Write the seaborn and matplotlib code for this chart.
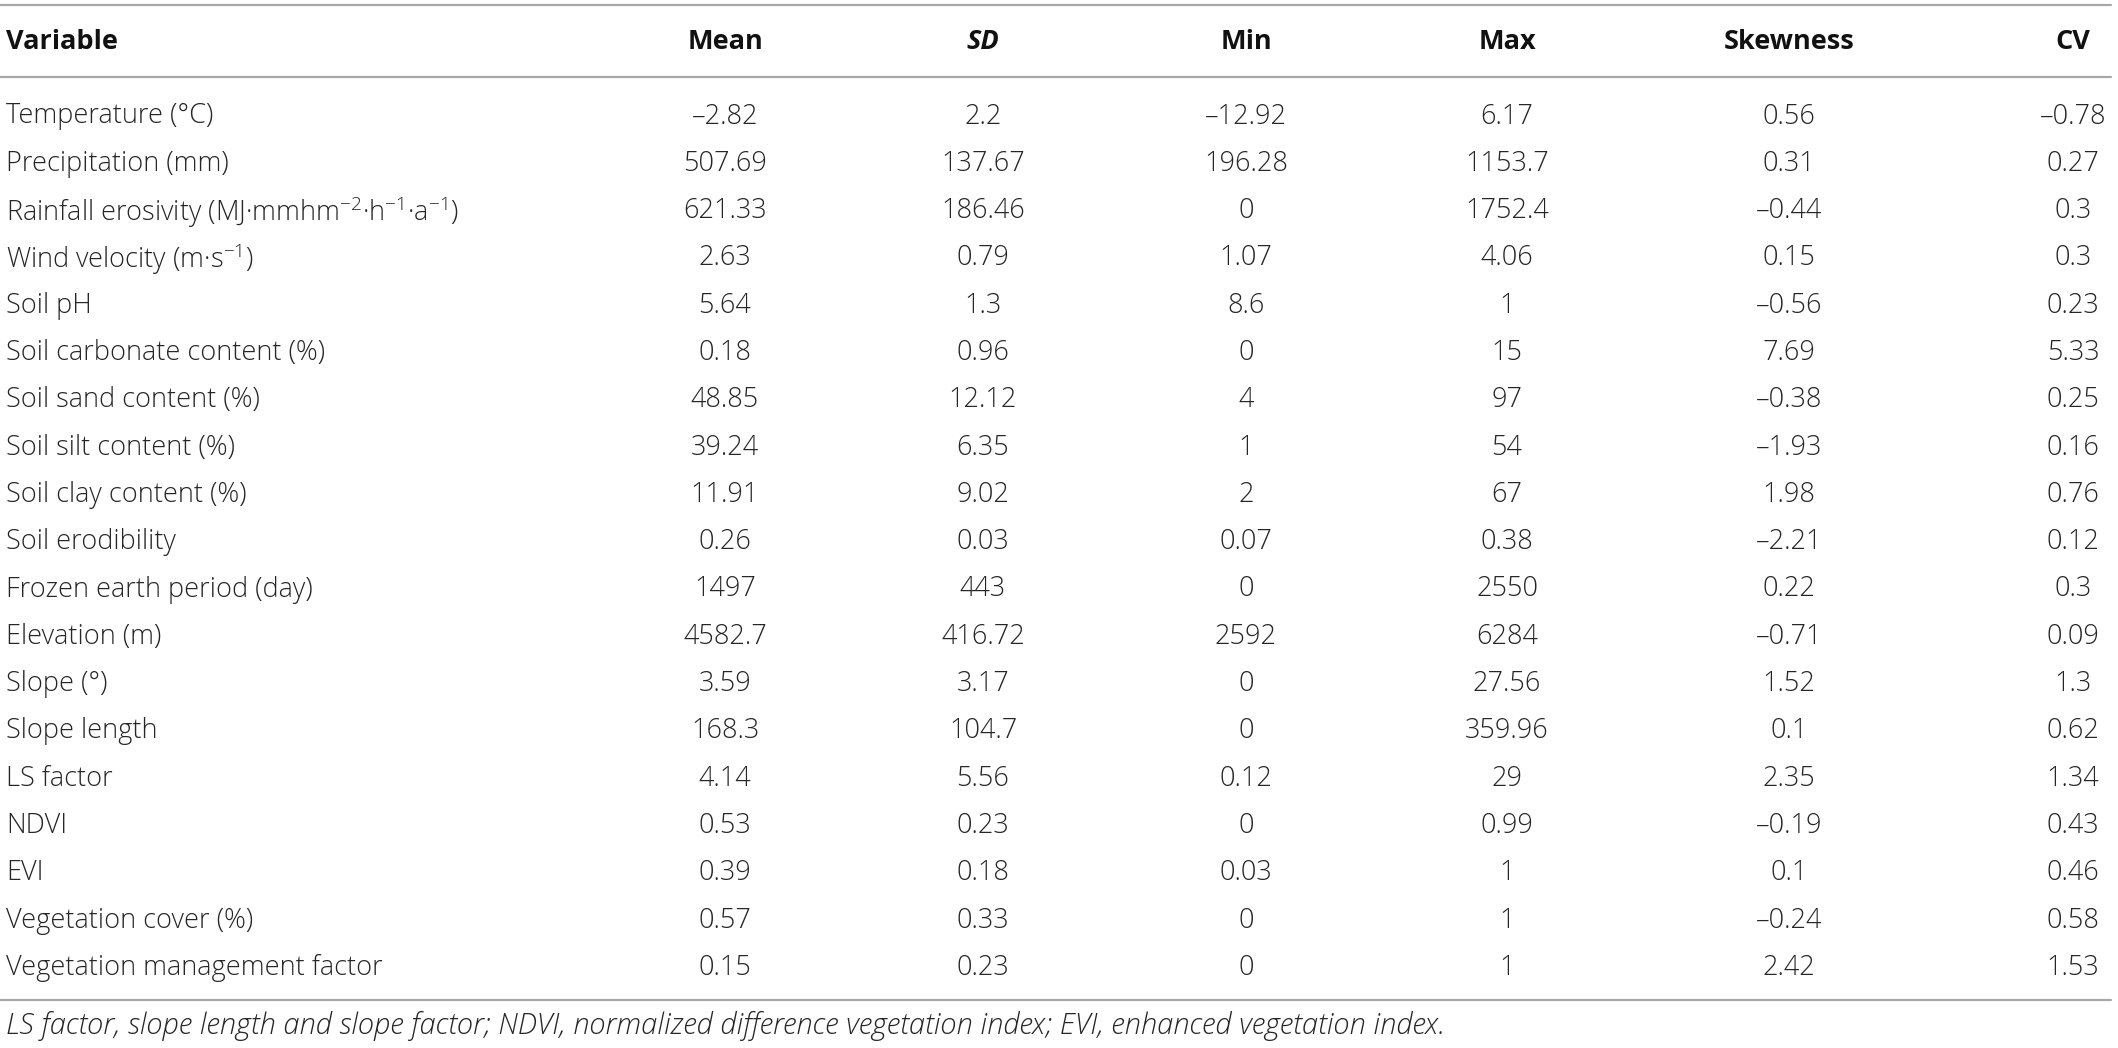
import matplotlib
matplotlib.use("Agg")
import matplotlib.pyplot as plt
from matplotlib import font_manager as fm
import seaborn as sns

variables = [
    "Temperature (°C)",
    "Precipitation (mm)",
    "Rainfall erosivity (MJ·mmhm$^{-2}$·h$^{-1}$·a$^{-1}$)",
    "Wind velocity (m·s$^{-1}$)",
    "Soil pH",
    "Soil carbonate content (%)",
    "Soil sand content (%)",
    "Soil silt content (%)",
    "Soil clay content (%)",
    "Soil erodibility",
    "Frozen earth period (day)",
    "Elevation (m)",
    "Slope (°)",
    "Slope length",
    "LS factor",
    "NDVI",
    "EVI",
    "Vegetation cover (%)",
    "Vegetation management factor",
]
mean = [-2.82, 507.69, 621.33, 2.63, 5.64, 0.18, 48.85, 39.24, 11.91, 0.26, 1497, 4582.7, 3.59, 168.3, 4.14, 0.53, 0.39, 0.57, 0.15]
sd = [2.2, 137.67, 186.46, 0.79, 1.3, 0.96, 12.12, 6.35, 9.02, 0.03, 443, 416.72, 3.17, 104.7, 5.56, 0.23, 0.18, 0.33, 0.23]
vmin = [-12.92, 196.28, 0, 1.07, 8.6, 0, 4, 1, 2, 0.07, 0, 2592, 0, 0, 0.12, 0, 0.03, 0, 0]
vmax = [6.17, 1153.7, 1752.4, 4.06, 1, 15, 97, 54, 67, 0.38, 2550, 6284, 27.56, 359.96, 29, 0.99, 1, 1, 1]
skewness = [0.56, 0.31, -0.44, 0.15, -0.56, 7.69, -0.38, -1.93, 1.98, -2.21, 0.22, -0.71, 1.52, 0.1, 2.35, -0.19, 0.1, -0.24, 2.42]
cv = [-0.78, 0.27, 0.3, 0.3, 0.23, 5.33, 0.25, 0.16, 0.76, 0.12, 0.3, 0.09, 1.3, 0.62, 1.34, 0.43, 0.46, 0.58, 1.53]

headers = ["Variable", "Mean", "SD", "Min", "Max", "Skewness", "CV"]
footnote = ("LS factor, slope length and slope factor; NDVI, normalized difference "
            "vegetation index; EVI, enhanced vegetation index.")

sns.set_theme(style="white")

# look for a light sans face, the reference uses a thin Helvetica-like font
base, light = "DejaVu Sans", None
for fam in ["Open Sans", "Lato", "Roboto", "Inter", "Noto Sans"]:
    faces = [f for f in fm.fontManager.ttflist
             if f.name.startswith(fam) and f.weight == 300 and f.style == "normal"]
    if faces:
        base, light = fam, faces[0].name
        break
body = light if light else base
plt.rcParams["font.family"] = [body, "DejaVu Sans"]
plt.rcParams["mathtext.fontset"] = "custom"
plt.rcParams["mathtext.rm"] = f"{body}:weight=light"
plt.rcParams["mathtext.default"] = "regular"


def fmt(v):
    return f"{v:g}".replace("-", "\u2013")


W, H = 2118, 1048
fig = plt.figure(figsize=(W / 100, H / 100), dpi=100)
ax = fig.add_axes([0, 0, 1, 1])
ax.set_xlim(0, W)
ax.set_ylim(H, 0)
ax.axis("off")

# first column left aligned, the rest centred on their column
col_x = [6, 725, 983, 1246, 1507, 1789, 2073]
fs = 19.5
txt_col = "#262626"
line_col = "#a8a8a8"

header_y = 42
row0 = 113
step = 47.3

for j, (x, h) in enumerate(zip(col_x, headers)):
    ax.text(x, header_y, h, ha="left" if j == 0 else "center", va="center",
            fontsize=fs, fontweight="bold", family=[base, "DejaVu Sans"],
            fontstyle="italic" if h == "SD" else "normal", color="#111111")

columns = [mean, sd, vmin, vmax, skewness, cv]
for i, var in enumerate(variables):
    y = row0 + i * step
    ax.text(col_x[0], y, var, ha="left", va="center_baseline", fontsize=fs,
            color=txt_col, fontweight=300)
    for x, col in zip(col_x[1:], columns):
        ax.text(x, y, fmt(col[i]), ha="center", va="center_baseline", fontsize=fs,
                color=txt_col, fontweight=300)

for y in [5, 77, 1000]:
    ax.plot([0, 2111], [y, y], color=line_col, lw=1.6)

ax.text(col_x[0], 1026, footnote, ha="left", va="center", fontsize=21,
        fontstyle="italic", fontweight=300, color=txt_col)

fig.savefig("out.png", dpi=100, facecolor="white")
